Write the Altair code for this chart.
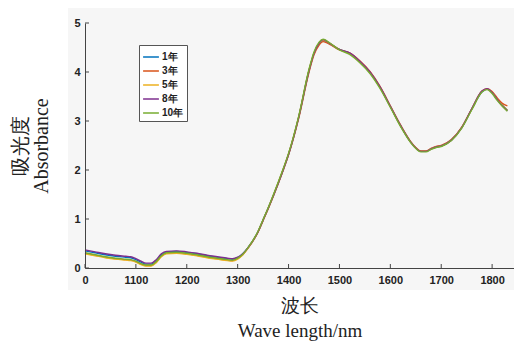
import altair as alt
import pandas as pd

wavelength = [1000, 1020, 1040, 1060, 1080, 1090, 1100, 1110, 1120, 1130, 1140, 1150, 1160, 1180,
              1200, 1220, 1240, 1260, 1280, 1290, 1300, 1310, 1320, 1340, 1350, 1360, 1380, 1390, 1400,
              1420, 1440, 1450, 1460, 1468, 1480, 1500, 1520, 1540, 1560, 1580, 1600, 1620,
              1640, 1650, 1660, 1670, 1680, 1690, 1700, 1720, 1740, 1760, 1780, 1790, 1800,
              1810, 1820, 1830]

y1 = [0.35, 0.31, 0.27, 0.24, 0.22, 0.21, 0.17, 0.12, 0.08, 0.08, 0.15, 0.27, 0.33, 0.34,
      0.32, 0.29, 0.25, 0.22, 0.19, 0.18, 0.21, 0.29, 0.41, 0.74, 0.98, 1.22, 1.74, 2.02, 2.32,
      3.08, 4.02, 4.38, 4.58, 4.64, 4.58, 4.46, 4.38, 4.21, 3.99, 3.68, 3.29, 2.90,
      2.57, 2.45, 2.38, 2.38, 2.43, 2.47, 2.49, 2.61, 2.86, 3.24, 3.59, 3.65, 3.58,
      3.44, 3.32, 3.22]
y3 = [0.30, 0.26, 0.22, 0.19, 0.17, 0.16, 0.13, 0.08, 0.05, 0.05, 0.12, 0.24, 0.30, 0.31,
      0.29, 0.26, 0.22, 0.19, 0.16, 0.15, 0.19, 0.27, 0.40, 0.73, 0.97, 1.21, 1.73, 2.01, 2.31,
      3.06, 3.99, 4.35, 4.55, 4.62, 4.57, 4.45, 4.39, 4.23, 4.01, 3.70, 3.31, 2.92,
      2.58, 2.46, 2.39, 2.39, 2.44, 2.48, 2.50, 2.62, 2.87, 3.25, 3.61, 3.66, 3.60,
      3.47, 3.36, 3.31]
y5 = [0.29, 0.25, 0.21, 0.18, 0.16, 0.15, 0.12, 0.07, 0.04, 0.04, 0.11, 0.23, 0.29, 0.30,
      0.28, 0.25, 0.21, 0.18, 0.15, 0.14, 0.18, 0.27, 0.40, 0.74, 0.98, 1.22, 1.75, 2.03, 2.33,
      3.09, 4.03, 4.39, 4.59, 4.65, 4.59, 4.46, 4.38, 4.21, 3.99, 3.68, 3.29, 2.90,
      2.57, 2.45, 2.38, 2.38, 2.43, 2.47, 2.49, 2.61, 2.86, 3.24, 3.60, 3.65, 3.58,
      3.44, 3.32, 3.22]
y8 = [0.37, 0.33, 0.29, 0.26, 0.24, 0.23, 0.19, 0.14, 0.10, 0.10, 0.17, 0.29, 0.34, 0.35,
      0.33, 0.30, 0.26, 0.23, 0.20, 0.19, 0.22, 0.29, 0.41, 0.74, 0.98, 1.22, 1.74, 2.02, 2.32,
      3.08, 4.02, 4.38, 4.59, 4.66, 4.59, 4.46, 4.39, 4.22, 4.00, 3.69, 3.30, 2.91,
      2.57, 2.45, 2.38, 2.38, 2.43, 2.47, 2.49, 2.61, 2.86, 3.25, 3.61, 3.66, 3.58,
      3.44, 3.31, 3.21]
y10 = [0.31, 0.27, 0.23, 0.20, 0.18, 0.17, 0.14, 0.09, 0.06, 0.06, 0.13, 0.25, 0.31, 0.32,
       0.30, 0.27, 0.23, 0.20, 0.17, 0.16, 0.20, 0.28, 0.41, 0.75, 0.99, 1.23, 1.76, 2.04, 2.34,
       3.10, 4.05, 4.41, 4.61, 4.67, 4.60, 4.45, 4.36, 4.19, 3.97, 3.66, 3.28, 2.89,
       2.56, 2.44, 2.37, 2.37, 2.42, 2.46, 2.48, 2.60, 2.85, 3.23, 3.59, 3.64, 3.56,
       3.42, 3.30, 3.20]

series_names = ["1年", "3年", "5年", "8年", "10年"]
series_values = [y1, y3, y5, y8, y10]
colors = ["#0072BD", "#D95319", "#EDB120", "#7E2F8E", "#77AC30"]

x_ticks = [1000, 1100, 1200, 1300, 1400, 1500, 1600, 1700, 1800]
y_ticks = [0, 1, 2, 3, 4, 5]

rows = []
for name, vals in zip(series_names, series_values):
    for w, v in zip(wavelength, vals):
        rows.append({"wavelength": w, "absorbance": v, "series": name})
df = pd.DataFrame(rows)

W, H = 429, 245
xscale = alt.Scale(domain=[1000, 1843], nice=False, zero=False)
yscale = alt.Scale(domain=[0, 5], nice=False)

bg = alt.Chart(pd.DataFrame({"a": [0]})).mark_rect(color="#f6f6f6").encode(
    x=alt.value(-17), x2=alt.value(440), y=alt.value(-15), y2=alt.value(267)
)

lines = alt.Chart(df).mark_line(strokeWidth=1.4, interpolate="monotone").encode(
    x=alt.X("wavelength:Q", scale=xscale,
            axis=alt.Axis(values=x_ticks, labelExpr="datum.value == 1000 ? '0' : datum.label",
                          format="d", tickSize=0, labelPadding=6, grid=False, zindex=1,
                          title=["波长", "Wave length/nm"], titleFont="Liberation Serif",
                          titleFontSize=19, titleFontWeight="normal", titleColor="#222",
                          titlePadding=11, titleLineHeight=25)),
    y=alt.Y("absorbance:Q", scale=yscale,
            axis=alt.Axis(values=y_ticks, tickSize=0, labelPadding=5, grid=False, zindex=1,
                          title=["吸光度", "Absorbance"], titleFont="Liberation Serif",
                          titleFontSize=20, titleFontWeight="normal", titleColor="#222",
                          titlePadding=22, titleLineHeight=21)),
    color=alt.Color("series:N", sort=series_names,
                    scale=alt.Scale(domain=series_names, range=colors),
                    legend=alt.Legend(title=None, orient="none", legendX=54, legendY=22,
                                      fillColor="white", strokeColor="#555", padding=3,
                                      symbolType="stroke", symbolSize=250, symbolStrokeWidth=1.5,
                                      labelFontSize=10, labelFontWeight="bold",
                                      labelFont="Liberation Sans", labelColor="#222",
                                      rowPadding=0, labelOffset=2)),
    detail="series:N",
)

xt = alt.Chart(pd.DataFrame({"t": x_ticks})).mark_rule(color="#444", strokeWidth=1).encode(
    x=alt.X("t:Q", scale=xscale), y=alt.value(H), y2=alt.value(H - 4)
)
yt = alt.Chart(pd.DataFrame({"t": y_ticks})).mark_rule(color="#444", strokeWidth=1).encode(
    y=alt.Y("t:Q", scale=yscale), x=alt.value(0), x2=alt.value(4)
)

chart = alt.layer(bg, lines, xt, yt).properties(
    width=W, height=H,
    autosize=alt.AutoSizeParams(type="none"),
    padding={"left": 85, "top": 23, "right": 0, "bottom": 73},
).configure_view(stroke=None).configure_axis(
    domainColor="#444", labelColor="#222", labelFont="Liberation Sans", labelFontSize=11,
    labelFontWeight="bold",
).configure_axisX(labelFlush=False)

chart.save("out.html", embed_options={"renderer": "svg", "actions": False})
